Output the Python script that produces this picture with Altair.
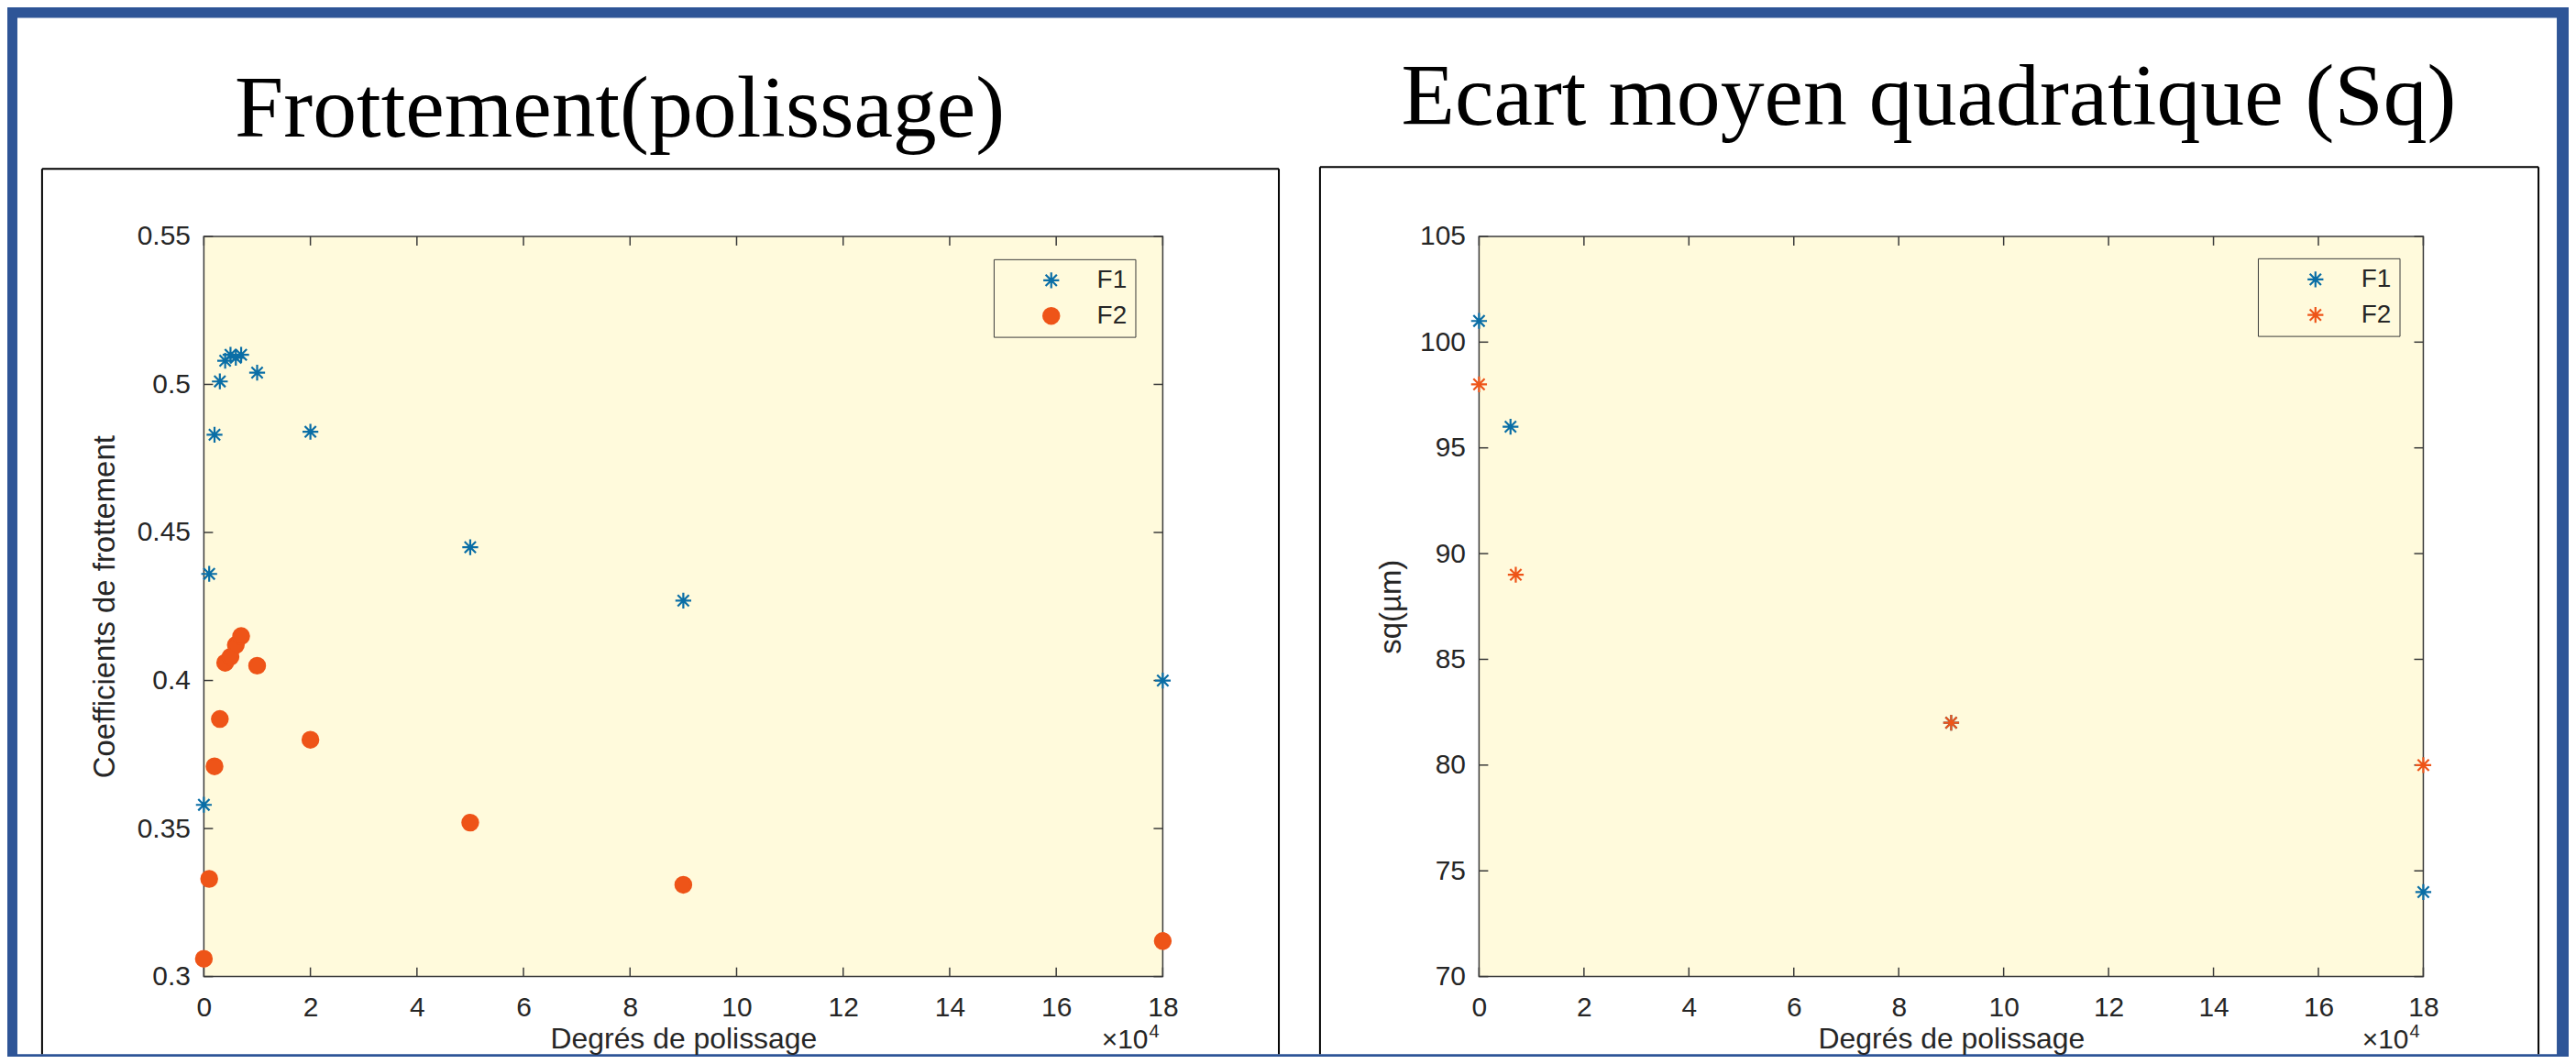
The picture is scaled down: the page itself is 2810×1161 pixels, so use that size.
import altair as alt
import pandas as pd

# ---------------- data ----------------
series = ["F1", "F2"]

degres = [0, 1000, 2000, 3000, 4000, 5000, 6000, 7000, 10000, 20000, 50000, 90000, 180000]
coef_F1 = [0.358, 0.436, 0.483, 0.501, 0.508, 0.510, 0.509, 0.510, 0.504, 0.484, 0.445, 0.427, 0.400]
coef_F2 = [0.306, 0.333, 0.371, 0.387, 0.406, 0.408, 0.412, 0.415, 0.405, 0.380, 0.352, 0.331, 0.312]

sq_degres_F1 = [0, 6000, 90000, 180000]
sq_F1 = [101, 96, 82, 74]
sq_degres_F2 = [0, 7000, 90000, 180000]
sq_F2 = [98, 89, 82, 80]

x_ticks = [0, 20000, 40000, 60000, 80000, 100000, 120000, 140000, 160000, 180000]
y_ticks_coef = [0.30, 0.35, 0.40, 0.45, 0.50, 0.55]
y_ticks_sq = [70, 75, 80, 85, 90, 95, 100, 105]

title_left = "Frottement(polissage)"
title_right = "Ecart moyen quadratique (Sq)"
xlabel = "Degrés de polissage"
ylabel_left = "Coefficients de frottement"
ylabel_right = "sq(µm)"
x_mult = "×10"
x_exp = "4"

# ---------------- style ----------------
SANS = "Liberation Sans, Arial, Helvetica, sans-serif"
SERIF = "Liberation Serif, Times New Roman, serif"
FRAME_BLUE = "#2E5597"
CREAM = "#FFFADC"
AXIS_C = "#3A3A3A"
TEXT_C = "#262626"
C_F1 = "#0A6EA6"
C_F2 = "#EE5418"
ASTERISK = "M0,-1L0,1M-1,0L1,0M-0.71,-0.71L0.71,0.71M-0.71,0.71L0.71,-0.71"

W1, H1 = 1049, 810
W2, H2 = 1033, 810
GAP = 346
# canvas extents relative to the left plot origin
CX0, CY0, CX1, CY1 = -215, -249, 2587, 895

one = pd.DataFrame({"k": [0]})


def rect(x, x2, y, y2, **kw):
    return alt.Chart(one).mark_rect(**kw).encode(
        x=alt.value(x), x2=alt.value(x2), y=alt.value(y), y2=alt.value(y2))


def vline(x, y, y2, **kw):
    return alt.Chart(one).mark_rule(**kw).encode(x=alt.value(x), y=alt.value(y), y2=alt.value(y2))


def hline(x, x2, y, **kw):
    return alt.Chart(one).mark_rule(**kw).encode(x=alt.value(x), x2=alt.value(x2), y=alt.value(y))


def label(text, x, y, **kw):
    return alt.Chart(one).mark_text(text=text, **kw).encode(x=alt.value(x), y=alt.value(y))


xs = alt.Scale(domain=[0, 180000], nice=False, zero=False)


def x_axis():
    return alt.Axis(values=x_ticks, labelExpr="datum.value / 10000", domain=False, ticks=False,
                    tickSize=0, grid=False, labelPadding=19, labelFont=SANS, labelFontSize=30,
                    labelColor=TEXT_C, labelFlush=False, labelOverlap=False,
                    title=xlabel, titleFont=SANS, titleFontSize=32, titleFontWeight="normal",
                    titleColor=TEXT_C, titleBaseline="alphabetic", titleY=78, zindex=1)


def y_axis(values, fmt, title, tx):
    return alt.Axis(values=values, format=fmt, domain=False, ticks=False, tickSize=0, grid=False,
                    labelPadding=15, labelFont=SANS, labelFontSize=30, labelColor=TEXT_C,
                    labelFlush=False, labelOverlap=False,
                    title=title, titleFont=SANS, titleFontSize=33, titleFontWeight="normal",
                    titleColor=TEXT_C, titleAngle=270, titleX=tx, titleY=405,
                    titleAlign="center", titleBaseline="middle", zindex=1)


def legend(lx, ly, **kw):
    return alt.Legend(title=None, orient="none", legendX=lx, legendY=ly, fillColor=CREAM,
                      strokeColor=AXIS_C, padding=9, symbolSize=300, symbolStrokeWidth=2.2,
                      labelFont=SANS, labelFontSize=28, labelColor=TEXT_C, labelOffset=36,
                      symbolOffset=40, rowPadding=11, direction="vertical", zindex=1, **kw)


def ticks(X, Y, xt_df, yt_df, W, H):
    kw = dict(color=AXIS_C, strokeWidth=1.5)
    return [
        alt.Chart(xt_df).mark_rule(**kw).encode(x=X, y=alt.value(H), y2=alt.value(H - 10)),
        alt.Chart(xt_df).mark_rule(**kw).encode(x=X, y=alt.value(0), y2=alt.value(10)),
        alt.Chart(yt_df).mark_rule(**kw).encode(y=Y, x=alt.value(0), x2=alt.value(10)),
        alt.Chart(yt_df).mark_rule(**kw).encode(y=Y, x=alt.value(W - 10), x2=alt.value(W)),
    ]


# ---------------- left panel ----------------
coef_df = pd.DataFrame({
    "deg": degres + degres,
    "val": coef_F1 + coef_F2,
    "serie": ["F1"] * len(degres) + ["F2"] * len(degres),
})
X1 = alt.X("deg:Q", scale=xs, axis=x_axis())
Y1 = alt.Y("val:Q", scale=alt.Scale(domain=[0.3, 0.55], nice=False, zero=False),
           axis=y_axis(y_ticks_coef, ".2~f", ylabel_left, -108))

leg1 = legend(864, 25)
pts1 = alt.Chart(coef_df).mark_point(size=300, strokeWidth=2.2, opacity=1).encode(
    x=X1, y=Y1,
    shape=alt.Shape("serie:N", scale=alt.Scale(domain=series, range=[ASTERISK, "circle"]), legend=leg1),
    stroke=alt.Stroke("serie:N", scale=alt.Scale(domain=series, range=[C_F1, C_F2]), legend=leg1),
    fill=alt.Fill("serie:N", scale=alt.Scale(domain=series, range=["transparent", C_F2]), legend=leg1),
)

box = dict(color="black", strokeWidth=2)
left = alt.layer(
    rect(CX0, CX1, CY0, CY1, fill=FRAME_BLUE),
    rect(-204, 2574, -239, CY1, fill="white"),
    vline(-177, -74, CY1, **box),
    hline(-177, 1176, -74, **box),
    vline(1176, -74, CY1, **box),
    label(title_left, 455, -109, font=SERIF, fontSize=96, align="center", baseline="alphabetic", color="black"),
    rect(0, W1, 0, H1, fill=CREAM, stroke=AXIS_C, strokeWidth=1.5),
    *ticks(X1, Y1, pd.DataFrame({"deg": x_ticks}), pd.DataFrame({"val": y_ticks_coef}), W1, H1),
    pts1,
    label(x_mult, W1 - 16, 889, font=SANS, fontSize=30, align="right", baseline="alphabetic", color=TEXT_C),
    label(x_exp, W1 - 15, 877, font=SANS, fontSize=20, align="left", baseline="alphabetic", color=TEXT_C),
).properties(width=W1, height=H1)

# ---------------- right panel ----------------
sq_df = pd.DataFrame({
    "deg": sq_degres_F1 + sq_degres_F2,
    "val": sq_F1 + sq_F2,
    "serie": ["F1"] * len(sq_F1) + ["F2"] * len(sq_F2),
})
X2 = alt.X("deg:Q", scale=xs, axis=x_axis())
Y2 = alt.Y("val:Q", scale=alt.Scale(domain=[70, 105], nice=False, zero=False),
           axis=y_axis(y_ticks_sq, "d", ylabel_right, -96))

leg2 = legend(852, 24, symbolType=ASTERISK)
pts2 = alt.Chart(sq_df).mark_point(shape=ASTERISK, filled=False, size=300, strokeWidth=2.2, opacity=1).encode(
    x=X2, y=Y2,
    stroke=alt.Stroke("serie:N", scale=alt.Scale(domain=series, range=[C_F1, C_F2]), legend=leg2),
)

right = alt.layer(
    vline(-174, -76, CY1, **box),
    hline(-174, 1159, -76, **box),
    vline(1159, -76, CY1, **box),
    label(title_right, 492, -122, font=SERIF, fontSize=96, align="center", baseline="alphabetic", color="black"),
    rect(0, W2, 0, H2, fill=CREAM, stroke=AXIS_C, strokeWidth=1.5),
    *ticks(X2, Y2, pd.DataFrame({"deg": x_ticks}), pd.DataFrame({"val": y_ticks_sq}), W2, H2),
    pts2,
    label(x_mult, W2 - 16, 889, font=SANS, fontSize=30, align="right", baseline="alphabetic", color=TEXT_C),
    label(x_exp, W2 - 15, 877, font=SANS, fontSize=20, align="left", baseline="alphabetic", color=TEXT_C),
).properties(width=W2, height=H2)

chart = alt.hconcat(left, right, spacing=GAP, bounds="flush").resolve_scale(
    x="independent", y="independent", stroke="independent", shape="independent", fill="independent"
).resolve_legend(
    stroke="independent", shape="independent", fill="independent"
).properties(padding=0, background=FRAME_BLUE).configure_view(strokeWidth=0)

chart.save("out.html", embed_options={"renderer": "svg", "actions": False})
